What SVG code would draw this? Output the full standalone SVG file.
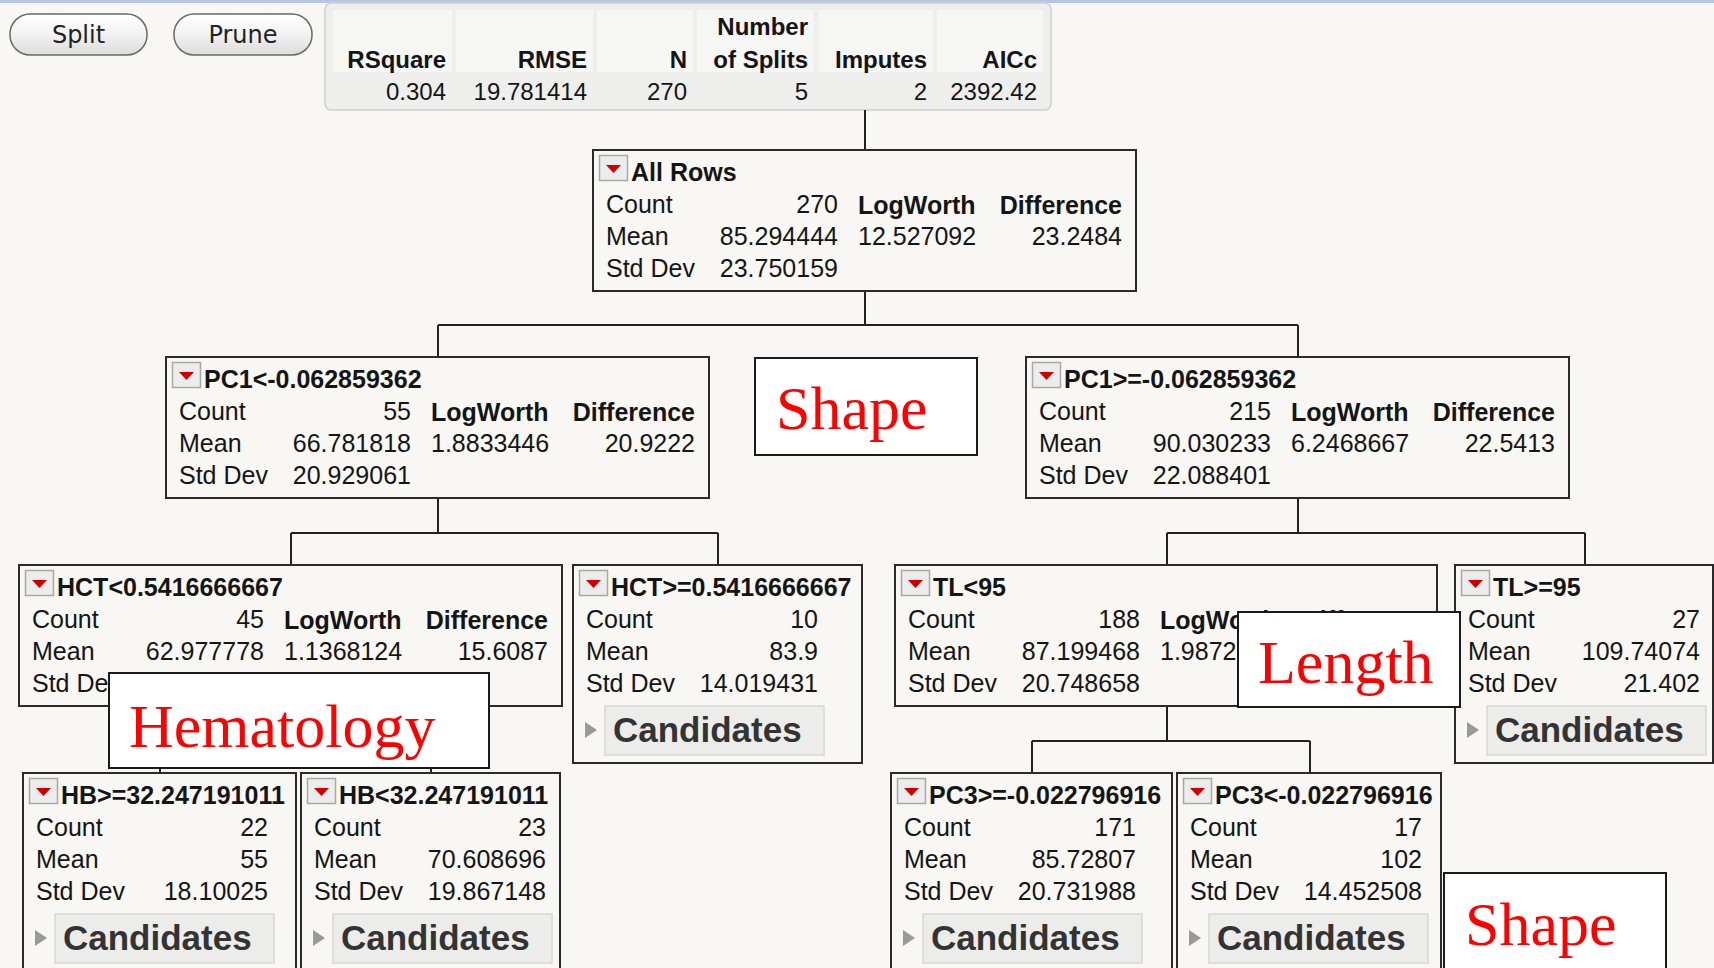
<svg xmlns="http://www.w3.org/2000/svg" width="1714" height="968" viewBox="0 0 1714 968">
<defs>
<linearGradient id="btn" x1="0" y1="0" x2="0" y2="1">
<stop offset="0" stop-color="#ffffff"/><stop offset="0.5" stop-color="#f2f2f2"/><stop offset="1" stop-color="#dcdcdc"/>
</linearGradient>
<g id="dd"><rect x="6.5" y="5.5" width="28" height="25" fill="#ececec" stroke="#a8a8a8" stroke-width="1.5"/><polygon points="13,15 28,15 20.5,23" fill="#d10000"/></g>
<g id="cand"><polygon points="12,157 12,173 24,165" fill="#999"/><rect x="32" y="141" width="219" height="49" fill="#ececea" stroke="#d8d8d6" stroke-width="1.5"/><text x="40" y="177" class="cd">Candidates</text></g>
</defs>
<style>
text{font-family:"Liberation Sans",Arial,sans-serif;fill:#151515}
.t{font-size:25px}
.b{font-size:25px;font-weight:bold}
.r{text-anchor:end}
.h{font-size:24px;font-weight:bold}
.d{font-size:24px}
.cd{font-size:35px;font-weight:bold;fill:#333}
.box{fill:#f8f7f3;stroke:#2a2a2a;stroke-width:2}
.ann{fill:#ffffff;stroke:#1a1a1a;stroke-width:2}
.at{font-family:"Liberation Serif","Times New Roman",serif;font-size:62px;fill:#ff0000}
.bt{font-family:"DejaVu Sans",sans-serif;font-size:24px;fill:#222;text-anchor:middle}
.con{fill:none;stroke:#222;stroke-width:2}
</style>
<rect x="0" y="0" width="1714" height="968" fill="#f8f7f3"/>
<rect x="0" y="0" width="1714" height="3" fill="#b7c4e6"/>

<g id="btn-split"><rect x="10" y="14" width="137" height="41" rx="20" fill="url(#btn)" stroke="#6a6a6a" stroke-width="1.5"/><text x="78.5" y="43" class="bt">Split</text></g>
<g id="btn-prune"><rect x="174" y="14" width="138" height="41" rx="20" fill="url(#btn)" stroke="#6a6a6a" stroke-width="1.5"/><text x="243" y="43" class="bt">Prune</text></g>

<g id="stats">
<rect x="325" y="3" width="726" height="107" rx="6" fill="#eeeeec" stroke="#d0d0ce" stroke-width="1.5"/>
<rect x="333" y="10" width="119" height="62" fill="#f6f6f4"/>
<rect x="456" y="10" width="137" height="62" fill="#f6f6f4"/>
<rect x="597" y="10" width="96" height="62" fill="#f6f6f4"/>
<rect x="697" y="10" width="117" height="62" fill="#f6f6f4"/>
<rect x="818" y="10" width="115" height="62" fill="#f6f6f4"/>
<rect x="937" y="10" width="106" height="62" fill="#f6f6f4"/>
<text x="446" y="68" class="h r">RSquare</text>
<text x="587" y="68" class="h r">RMSE</text>
<text x="687" y="68" class="h r">N</text>
<text x="808" y="35" class="h r">Number</text>
<text x="808" y="68" class="h r">of Splits</text>
<text x="927" y="68" class="h r">Imputes</text>
<text x="1037" y="68" class="h r">AICc</text>
<text x="446" y="100" class="d r">0.304</text>
<text x="587" y="100" class="d r">19.781414</text>
<text x="687" y="100" class="d r">270</text>
<text x="808" y="100" class="d r">5</text>
<text x="927" y="100" class="d r">2</text>
<text x="1037" y="100" class="d r">2392.42</text>
</g>

<g id="connectors">
<path class="con" d="M865,110 V150"/>
<path class="con" d="M865,291 V325 M438,325 H1298 M438,325 V357 M1298,325 V357"/>
<path class="con" d="M438,498 V533 M291,533 H718 M291,533 V565 M718,533 V565"/>
<path class="con" d="M1298,498 V533 M1167,533 H1585 M1167,533 V565 M1585,533 V565"/>
<path class="con" d="M291,706 V741 M160,741 H431 M160,741 V773 M431,741 V773"/>
<path class="con" d="M1167,706 V741 M1032,741 H1310 M1032,741 V773 M1310,741 V773"/>
</g>

<g id="n-allrows" transform="translate(593,150)">
<rect class="box" x="0" y="0" width="543" height="141"/><use href="#dd"/>
<text x="38" y="31" class="b">All Rows</text>
<text x="13" y="63" class="t">Count</text><text x="245" y="63" class="t r">270</text>
<text x="265" y="64" class="b">LogWorth</text><text x="529" y="64" class="b r">Difference</text>
<text x="13" y="95" class="t">Mean</text><text x="245" y="95" class="t r">85.294444</text>
<text x="265" y="95" class="t">12.527092</text><text x="529" y="95" class="t r">23.2484</text>
<text x="13" y="127" class="t">Std Dev</text><text x="245" y="127" class="t r">23.750159</text>
</g>

<g id="n-pc1lt" transform="translate(166,357)">
<rect class="box" x="0" y="0" width="543" height="141"/><use href="#dd"/>
<text x="38" y="31" class="b">PC1&lt;-0.062859362</text>
<text x="13" y="63" class="t">Count</text><text x="245" y="63" class="t r">55</text>
<text x="265" y="64" class="b">LogWorth</text><text x="529" y="64" class="b r">Difference</text>
<text x="13" y="95" class="t">Mean</text><text x="245" y="95" class="t r">66.781818</text>
<text x="265" y="95" class="t">1.8833446</text><text x="529" y="95" class="t r">20.9222</text>
<text x="13" y="127" class="t">Std Dev</text><text x="245" y="127" class="t r">20.929061</text>
</g>

<g id="n-pc1ge" transform="translate(1026,357)">
<rect class="box" x="0" y="0" width="543" height="141"/><use href="#dd"/>
<text x="38" y="31" class="b">PC1&gt;=-0.062859362</text>
<text x="13" y="63" class="t">Count</text><text x="245" y="63" class="t r">215</text>
<text x="265" y="64" class="b">LogWorth</text><text x="529" y="64" class="b r">Difference</text>
<text x="13" y="95" class="t">Mean</text><text x="245" y="95" class="t r">90.030233</text>
<text x="265" y="95" class="t">6.2468667</text><text x="529" y="95" class="t r">22.5413</text>
<text x="13" y="127" class="t">Std Dev</text><text x="245" y="127" class="t r">22.088401</text>
</g>

<g id="n-hctlt" transform="translate(19,565)">
<rect class="box" x="0" y="0" width="543" height="141"/><use href="#dd"/>
<text x="38" y="31" class="b">HCT&lt;0.5416666667</text>
<text x="13" y="63" class="t">Count</text><text x="245" y="63" class="t r">45</text>
<text x="265" y="64" class="b">LogWorth</text><text x="529" y="64" class="b r">Difference</text>
<text x="13" y="95" class="t">Mean</text><text x="245" y="95" class="t r">62.977778</text>
<text x="265" y="95" class="t">1.1368124</text><text x="529" y="95" class="t r">15.6087</text>
<text x="13" y="127" class="t">Std Dev</text>
</g>

<g id="n-hctge" transform="translate(573,565)">
<rect class="box" x="0" y="0" width="289" height="198"/><use href="#dd"/>
<text x="38" y="31" class="b">HCT&gt;=0.5416666667</text>
<text x="13" y="63" class="t">Count</text><text x="245" y="63" class="t r">10</text>
<text x="13" y="95" class="t">Mean</text><text x="245" y="95" class="t r">83.9</text>
<text x="13" y="127" class="t">Std Dev</text><text x="245" y="127" class="t r">14.019431</text>
<use href="#cand"/>
</g>

<g id="n-tllt" transform="translate(895,565)">
<rect class="box" x="0" y="0" width="542" height="141"/><use href="#dd"/>
<text x="38" y="31" class="b">TL&lt;95</text>
<text x="13" y="63" class="t">Count</text><text x="245" y="63" class="t r">188</text>
<text x="265" y="64" class="b">LogWorth</text><text x="529" y="64" class="b r">Difference</text>
<text x="13" y="95" class="t">Mean</text><text x="245" y="95" class="t r">87.199468</text>
<text x="265" y="95" class="t">1.9872</text>
<text x="13" y="127" class="t">Std Dev</text><text x="245" y="127" class="t r">20.748658</text>
</g>

<g id="n-tlge" transform="translate(1455,565)">
<rect class="box" x="0" y="0" width="258" height="198"/><use href="#dd"/>
<text x="38" y="31" class="b">TL&gt;=95</text>
<text x="13" y="63" class="t">Count</text><text x="245" y="63" class="t r">27</text>
<text x="13" y="95" class="t">Mean</text><text x="245" y="95" class="t r">109.74074</text>
<text x="13" y="127" class="t">Std Dev</text><text x="245" y="127" class="t r">21.402</text>
<use href="#cand"/>
</g>

<g id="n-hbge" transform="translate(23,773)">
<rect class="box" x="0" y="0" width="273" height="198"/><use href="#dd"/>
<text x="38" y="31" class="b">HB&gt;=32.247191011</text>
<text x="13" y="63" class="t">Count</text><text x="245" y="63" class="t r">22</text>
<text x="13" y="95" class="t">Mean</text><text x="245" y="95" class="t r">55</text>
<text x="13" y="127" class="t">Std Dev</text><text x="245" y="127" class="t r">18.10025</text>
<use href="#cand"/>
</g>

<g id="n-hblt" transform="translate(301,773)">
<rect class="box" x="0" y="0" width="259" height="198"/><use href="#dd"/>
<text x="38" y="31" class="b">HB&lt;32.247191011</text>
<text x="13" y="63" class="t">Count</text><text x="245" y="63" class="t r">23</text>
<text x="13" y="95" class="t">Mean</text><text x="245" y="95" class="t r">70.608696</text>
<text x="13" y="127" class="t">Std Dev</text><text x="245" y="127" class="t r">19.867148</text>
<use href="#cand"/>
</g>

<g id="n-pc3ge" transform="translate(891,773)">
<rect class="box" x="0" y="0" width="281" height="198"/><use href="#dd"/>
<text x="38" y="31" class="b">PC3&gt;=-0.022796916</text>
<text x="13" y="63" class="t">Count</text><text x="245" y="63" class="t r">171</text>
<text x="13" y="95" class="t">Mean</text><text x="245" y="95" class="t r">85.72807</text>
<text x="13" y="127" class="t">Std Dev</text><text x="245" y="127" class="t r">20.731988</text>
<use href="#cand"/>
</g>

<g id="n-pc3lt" transform="translate(1177,773)">
<rect class="box" x="0" y="0" width="264" height="198"/><use href="#dd"/>
<text x="38" y="31" class="b">PC3&lt;-0.022796916</text>
<text x="13" y="63" class="t">Count</text><text x="245" y="63" class="t r">17</text>
<text x="13" y="95" class="t">Mean</text><text x="245" y="95" class="t r">102</text>
<text x="13" y="127" class="t">Std Dev</text><text x="245" y="127" class="t r">14.452508</text>
<use href="#cand"/>
</g>

<g id="a-shape1"><rect class="ann" x="755" y="358" width="222" height="97"/><text x="776" y="429" class="at">Shape</text></g>
<g id="a-hematology"><rect class="ann" x="109" y="673" width="380" height="95"/><text x="129" y="747" class="at">Hematology</text></g>
<g id="a-length"><rect class="ann" x="1238" y="612" width="222" height="95"/><text x="1258" y="683" class="at">Length</text></g>
<g id="a-shape2"><rect class="ann" x="1444" y="873" width="222" height="100"/><text x="1465" y="945" class="at">Shape</text></g>
</svg>
